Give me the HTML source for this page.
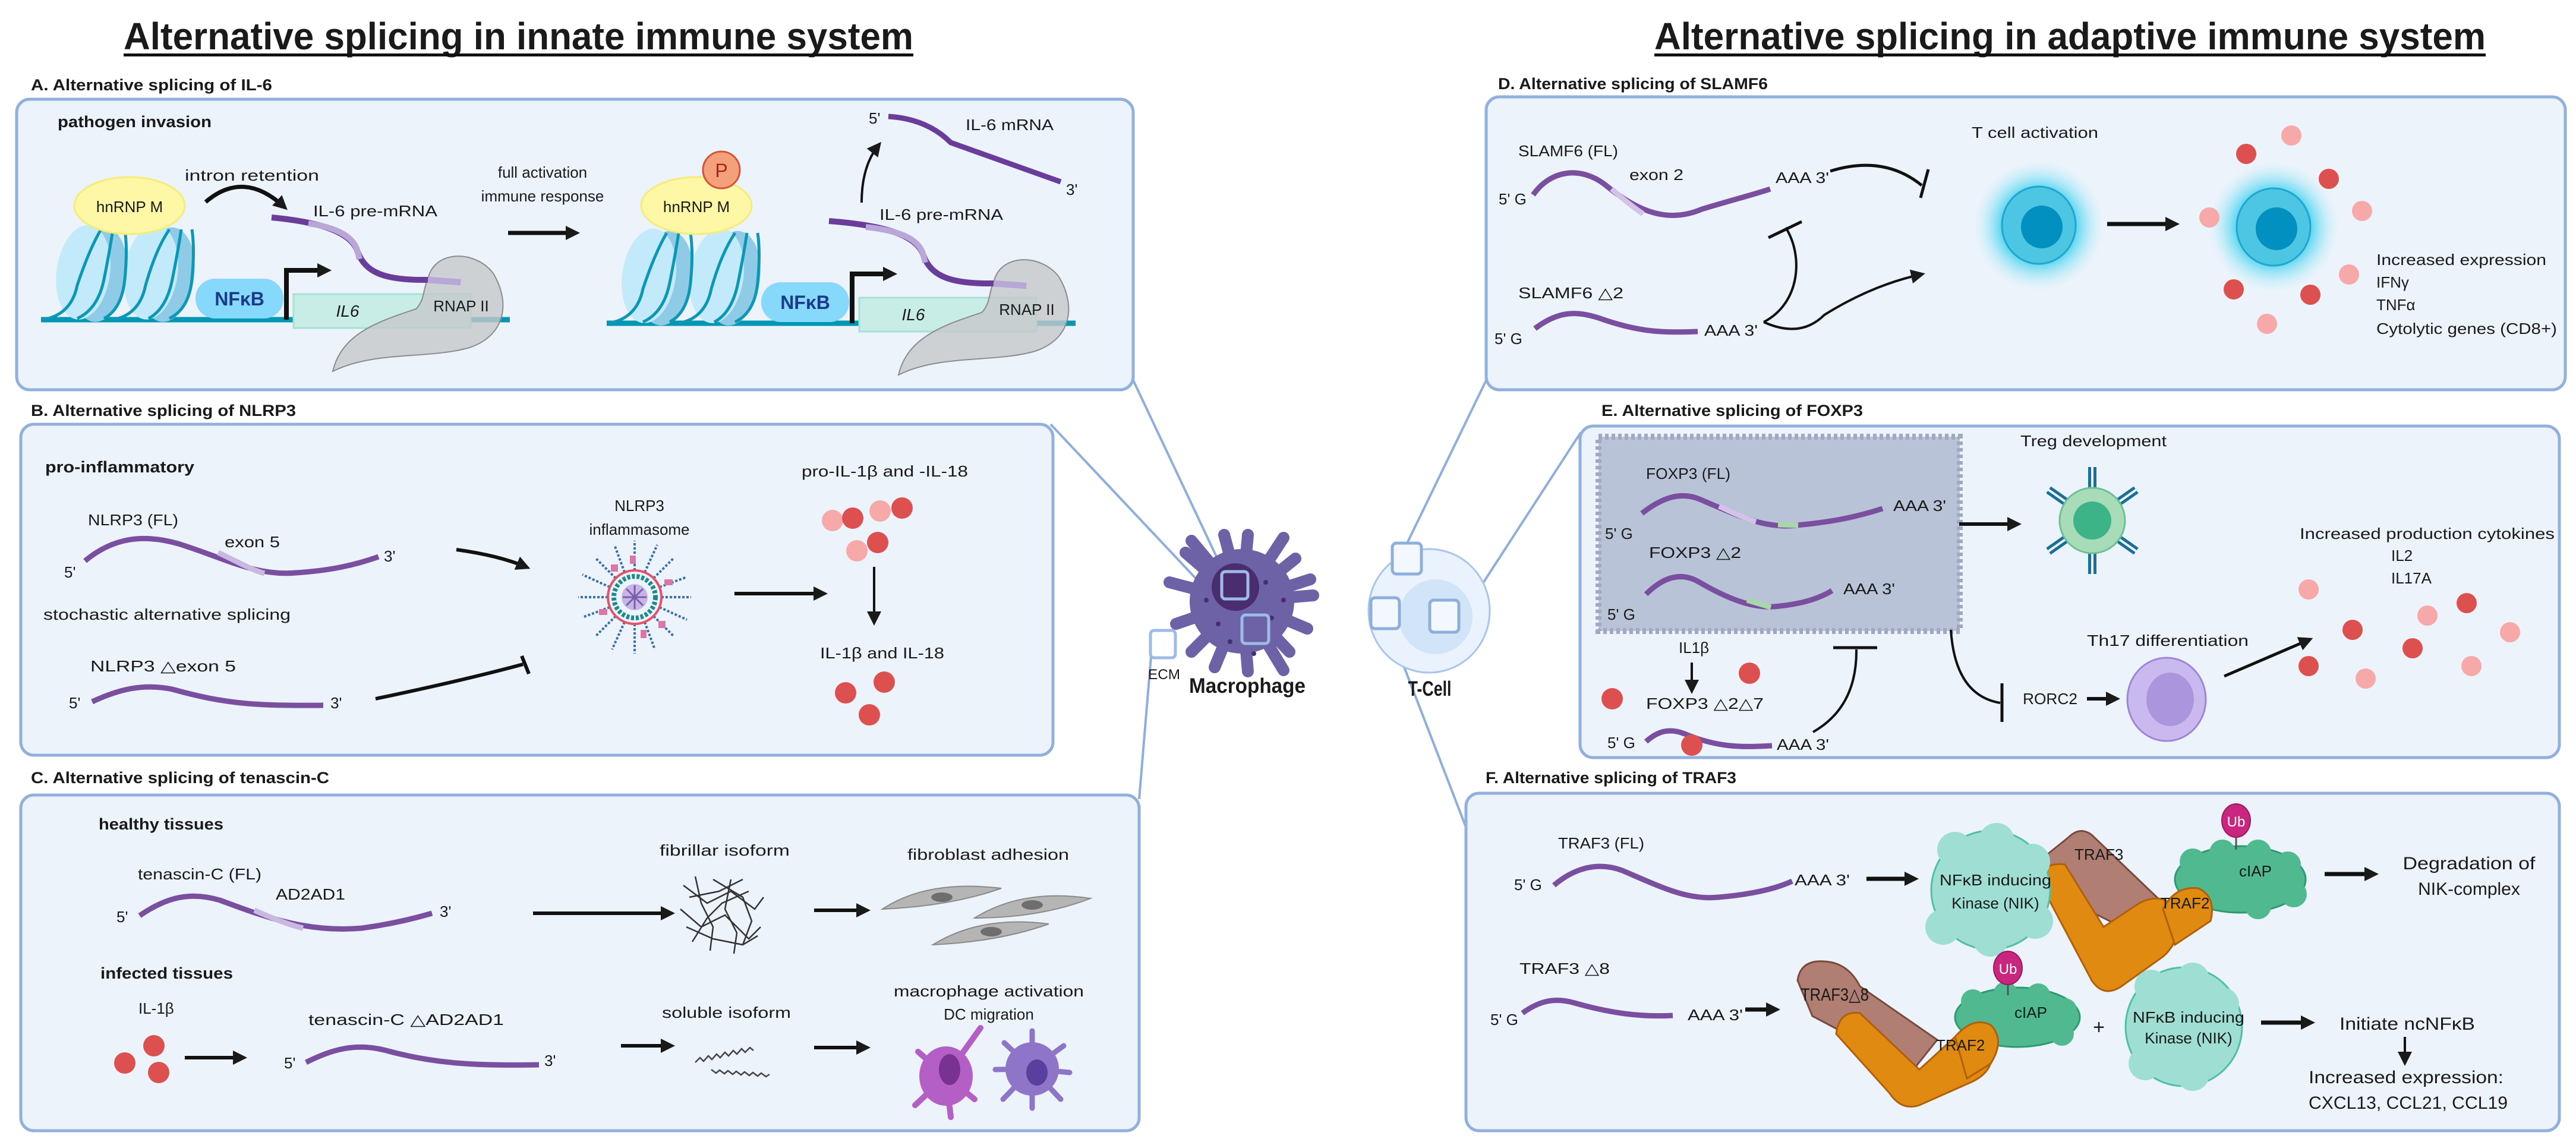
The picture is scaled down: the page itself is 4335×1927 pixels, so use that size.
<!DOCTYPE html>
<html><head><meta charset="utf-8">
<style>
html,body{margin:0;padding:0;background:#fff;}
svg{display:block;}
text{font-family:"Liberation Sans",sans-serif;fill:#1a1a1a;}
.t{font-size:26px;}
.b{font-weight:bold;}
</style></head><body>
<svg width="4335" height="1927" viewBox="0 0 4335 1927" xmlns="http://www.w3.org/2000/svg">
<defs>
<marker id="ah" markerUnits="userSpaceOnUse" markerWidth="30" markerHeight="30" refX="16" refY="12" orient="auto"><path d="M0,0 L24,12 L0,24 Z" fill="#1a1a1a"/></marker>
<radialGradient id="glow"><stop offset="0.55" stop-color="#3fd0ef" stop-opacity="0.9"/><stop offset="1" stop-color="#bff0fa" stop-opacity="0"/></radialGradient>
</defs>

<!-- titles -->
<text x="208" y="83" font-size="64" class="b" textLength="1329" lengthAdjust="spacingAndGlyphs">Alternative splicing in innate immune system</text>
<rect x="208" y="90" width="1329" height="5" fill="#111"/>
<text x="2784" y="83" font-size="64" class="b" textLength="1399" lengthAdjust="spacingAndGlyphs">Alternative splicing in adaptive immune system</text>
<rect x="2784" y="90" width="1399" height="5" fill="#111"/>

<!-- connector lines -->
<g stroke="#8eafdc" stroke-width="4" fill="none">
<line x1="1907" y1="640" x2="2059" y2="962"/>
<line x1="1768" y1="714" x2="2091" y2="1057"/>
<line x1="1937" y1="1105" x2="1917" y2="1345"/>
<line x1="2501" y1="640" x2="2368" y2="914"/>
<line x1="2455" y1="1044" x2="2660" y2="728"/>
<line x1="2338" y1="1058" x2="2470" y2="1400"/>
</g>

<!-- section labels -->
<g class="b" font-size="27">
<text x="52" y="152" textLength="406" lengthAdjust="spacingAndGlyphs">A. Alternative splicing of IL-6</text>
<text x="52" y="700" textLength="446" lengthAdjust="spacingAndGlyphs">B. Alternative splicing of NLRP3</text>
<text x="52" y="1318" textLength="502" lengthAdjust="spacingAndGlyphs">C. Alternative splicing of tenascin-C</text>
<text x="2521" y="150" textLength="454" lengthAdjust="spacingAndGlyphs">D. Alternative splicing of SLAMF6</text>
<text x="2695" y="700" textLength="440" lengthAdjust="spacingAndGlyphs">E. Alternative splicing of FOXP3</text>
<text x="2500" y="1318" textLength="422" lengthAdjust="spacingAndGlyphs">F. Alternative splicing of TRAF3</text>
</g>

<!-- boxes -->
<g fill="#ecf3fb" stroke="#91b1dc" stroke-width="5">
<rect x="28" y="167" width="1879" height="489" rx="22"/>
<rect x="35" y="714" width="1737" height="557" rx="22"/>
<rect x="35" y="1338" width="1882" height="565" rx="22"/>
<rect x="2501" y="163" width="1816" height="493" rx="22"/>
<rect x="2659" y="717" width="1648" height="558" rx="22"/>
<rect x="2467" y="1335" width="1840" height="568" rx="22"/>
</g>

<!-- ===== Panel A ===== -->
<text x="97" y="214" class="b" font-size="27" textLength="259" lengthAdjust="spacingAndGlyphs">pathogen invasion</text>
<g id="constr1">
<line x1="69" y1="538" x2="858" y2="538" stroke="#0097b2" stroke-width="9"/>
<g transform="rotate(8 152 460)">
<ellipse cx="168" cy="460" rx="45" ry="80" fill="#8fcbe6"/><ellipse cx="140" cy="460" rx="45" ry="80" fill="#c3eafa"/>
</g>
<g transform="rotate(8 266 460)">
<ellipse cx="282" cy="460" rx="45" ry="80" fill="#8fcbe6"/><ellipse cx="254" cy="460" rx="45" ry="80" fill="#c3eafa"/>
</g>
<g stroke="#0b97b5" stroke-width="5" fill="none">
<path d="M72,538 Q120,530 130,480 Q150,420 170,386"/><path d="M130,536 Q165,520 175,470 Q185,420 190,386"/><path d="M175,536 Q205,520 210,470 Q215,420 210,386"/>
<path d="M190,538 Q235,530 245,480 Q262,420 285,386"/><path d="M250,536 Q280,520 290,470 Q300,420 305,386"/><path d="M285,536 Q318,520 323,470 Q328,420 323,386"/>
</g>
<ellipse cx="218" cy="346" rx="93" ry="48" fill="#fdf7a6" stroke="#f5ec7a" stroke-width="3"/>
<text x="218" y="357" class="t" text-anchor="middle" font-size="27">hnRNP M</text>
<rect x="329" y="469" width="148" height="67" rx="33" fill="#86d9fb"/>
<text x="403" y="514" text-anchor="middle" class="b" font-size="32" style="fill:#1b3a8a">NFκB</text>
<rect x="494" y="495" width="298" height="57" fill="#c8ede6" stroke="#a7e0d6" stroke-width="3"/>
<text x="585" y="533" font-size="28" font-style="italic" text-anchor="middle">IL6</text>
<path d="M720,470 C730,420 800,420 830,460 C860,510 850,565 790,585 C720,605 630,590 560,625 C575,560 640,540 700,520 C715,505 712,485 720,470 Z" fill="#c5c8cb" fill-opacity="0.8" stroke="#8c8c8c" stroke-width="2"/>
<text x="776" y="524" class="t" text-anchor="middle" font-size="27">RNAP II</text>
<path d="M482,538 L482,455 L550,455" stroke="#111" stroke-width="8" fill="none" marker-end="url(#ah)"/>
<path d="M457,366 C520,372 590,385 602,424 C615,460 650,472 720,471 L775,475" stroke="#6a3d9a" stroke-width="10" fill="none"/>
<path d="M519,376 C560,382 595,395 602,424 L605,436" stroke="#b9a7d8" stroke-width="10" fill="none"/>
<path d="M720,471 L775,475" stroke="#b9a7d8" stroke-width="10" fill="none"/>
</g>
<g transform="translate(952,6)">
<line x1="69" y1="538" x2="858" y2="538" stroke="#0097b2" stroke-width="9"/>
<g transform="rotate(8 152 460)">
<ellipse cx="168" cy="460" rx="45" ry="80" fill="#8fcbe6"/><ellipse cx="140" cy="460" rx="45" ry="80" fill="#c3eafa"/>
</g>
<g transform="rotate(8 266 460)">
<ellipse cx="282" cy="460" rx="45" ry="80" fill="#8fcbe6"/><ellipse cx="254" cy="460" rx="45" ry="80" fill="#c3eafa"/>
</g>
<g stroke="#0b97b5" stroke-width="5" fill="none">
<path d="M72,538 Q120,530 130,480 Q150,420 170,386"/><path d="M130,536 Q165,520 175,470 Q185,420 190,386"/><path d="M175,536 Q205,520 210,470 Q215,420 210,386"/>
<path d="M190,538 Q235,530 245,480 Q262,420 285,386"/><path d="M250,536 Q280,520 290,470 Q300,420 305,386"/><path d="M285,536 Q318,520 323,470 Q328,420 323,386"/>
</g>
<ellipse cx="220" cy="340" rx="93" ry="48" fill="#fdf7a6" stroke="#f5ec7a" stroke-width="3"/>
<text x="220" y="351" class="t" text-anchor="middle" font-size="27">hnRNP M</text>
<rect x="329" y="469" width="148" height="67" rx="33" fill="#86d9fb"/>
<text x="403" y="514" text-anchor="middle" class="b" font-size="32" style="fill:#1b3a8a">NFκB</text>
<rect x="494" y="495" width="298" height="57" fill="#c8ede6" stroke="#a7e0d6" stroke-width="3"/>
<text x="585" y="533" font-size="28" font-style="italic" text-anchor="middle">IL6</text>
<path d="M720,470 C730,420 800,420 830,460 C860,510 850,565 790,585 C720,605 630,590 560,625 C575,560 640,540 700,520 C715,505 712,485 720,470 Z" fill="#c5c8cb" fill-opacity="0.8" stroke="#8c8c8c" stroke-width="2"/>
<text x="776" y="524" class="t" text-anchor="middle" font-size="27">RNAP II</text>
<path d="M482,538 L482,455 L550,455" stroke="#111" stroke-width="8" fill="none" marker-end="url(#ah)"/>
<path d="M443,366 C520,372 590,385 602,424 C615,460 650,472 720,471 L775,475" stroke="#6a3d9a" stroke-width="10" fill="none"/>
<path d="M505,376 C560,382 595,395 602,424 L605,436" stroke="#b9a7d8" stroke-width="10" fill="none"/>
<path d="M720,471 L775,475" stroke="#b9a7d8" stroke-width="10" fill="none"/>
</g>
<circle cx="1214" cy="286" r="31" fill="#f4a07a" stroke="#d2543a" stroke-width="3"/>
<text x="1214" y="298" text-anchor="middle" font-size="32" style="fill:#a3281a">P</text>
<text x="311" y="304" class="t" font-size="27" textLength="226" lengthAdjust="spacingAndGlyphs">intron retention</text>
<path d="M346,340 Q410,285 478,348" stroke="#111" stroke-width="7" fill="none" marker-end="url(#ah)"/>
<text x="527" y="364" class="t" font-size="27" textLength="209" lengthAdjust="spacingAndGlyphs">IL-6 pre-mRNA</text>
<text x="913" y="299" class="t" font-size="27" text-anchor="middle">full activation</text>
<text x="913" y="339" class="t" font-size="27" text-anchor="middle">immune response</text>
<line x1="855" y1="392" x2="968" y2="392" stroke="#111" stroke-width="7" marker-end="url(#ah)"/>
<path d="M1450,341 Q1450,280 1478,245" stroke="#111" stroke-width="4" fill="none" marker-end="url(#ah)"/>
<path d="M1495,196 Q1560,200 1600,240 L1785,306" stroke="#6a3d9a" stroke-width="9" fill="none"/>
<text x="1462" y="208" class="t">5'</text>
<text x="1625" y="219" class="t" font-size="27" textLength="148" lengthAdjust="spacingAndGlyphs">IL-6 mRNA</text>
<text x="1794" y="328" class="t">3'</text>
<text x="1480" y="370" class="t" font-size="27" textLength="208" lengthAdjust="spacingAndGlyphs">IL-6 pre-mRNA</text>

<!-- ===== Panel B ===== -->
<text x="76" y="795" class="b" font-size="27" textLength="251" lengthAdjust="spacingAndGlyphs">pro-inflammatory</text>
<text x="148" y="884" class="t" textLength="152" lengthAdjust="spacingAndGlyphs">NLRP3 (FL)</text>
<text x="378" y="921" class="t" textLength="93" lengthAdjust="spacingAndGlyphs">exon 5</text>
<text x="108" y="972" class="t">5'</text>
<text x="646" y="945" class="t">3'</text>
<path d="M143,944 C190,905 240,898 300,915 C380,940 430,970 498,964 C560,960 600,950 637,937" stroke="#7b4fa0" stroke-width="9" fill="none"/>
<path d="M367,930 C400,945 420,958 445,965" stroke="#c9b8e0" stroke-width="9" fill="none"/>
<text x="73" y="1043" class="t" textLength="416" lengthAdjust="spacingAndGlyphs">stochastic alternative splicing</text>
<text x="152" y="1130" class="t" font-size="28" textLength="245" lengthAdjust="spacingAndGlyphs">NLRP3 △exon 5</text>
<text x="116" y="1192" class="t">5'</text>
<text x="556" y="1192" class="t">3'</text>
<path d="M155,1181 C200,1160 240,1150 290,1160 C380,1185 430,1188 544,1187" stroke="#7b4fa0" stroke-width="9" fill="none"/>
<path d="M632,1176 Q780,1145 880,1118" stroke="#111" stroke-width="6" fill="none"/>
<line x1="878" y1="1104" x2="890" y2="1134" stroke="#111" stroke-width="6"/>
<path d="M768,925 Q840,935 885,954" stroke="#111" stroke-width="6" fill="none" marker-end="url(#ah)"/>
<text x="1076" y="860" class="t" text-anchor="middle">NLRP3</text>
<text x="1076" y="900" class="t" text-anchor="middle">inflammasome</text>
<g transform="translate(1068,1005)">
<g stroke="#3a6fa8" stroke-width="4" stroke-dasharray="4 3">
<line x1="0" y1="-45" x2="0" y2="-95"/><line x1="0" y1="45" x2="0" y2="95"/><line x1="45" y1="0" x2="95" y2="0"/><line x1="-45" y1="0" x2="-95" y2="0"/>
<line x1="32" y1="32" x2="66" y2="66"/><line x1="-32" y1="32" x2="-66" y2="66"/><line x1="32" y1="-32" x2="66" y2="-66"/><line x1="-32" y1="-32" x2="-66" y2="-66"/>
<line x1="17" y1="-42" x2="38" y2="-88"/><line x1="-17" y1="42" x2="-38" y2="88"/><line x1="42" y1="17" x2="88" y2="38"/><line x1="-42" y1="-17" x2="-88" y2="-38"/>
<line x1="-17" y1="-42" x2="-34" y2="-88"/><line x1="17" y1="42" x2="34" y2="88"/><line x1="42" y1="-17" x2="88" y2="-34"/><line x1="-42" y1="17" x2="-88" y2="34"/>
</g>
<g fill="#d877a8"><rect x="-8" y="-70" width="10" height="14"/><rect x="50" y="-30" width="14" height="10"/><rect x="40" y="40" width="12" height="12"/><rect x="-60" y="20" width="14" height="10"/><rect x="-40" y="-55" width="12" height="12"/><rect x="10" y="55" width="10" height="14"/></g>
<circle r="45" fill="#ecf3fb" stroke="#e8506a" stroke-width="4"/>
<circle r="35" fill="none" stroke="#1b8a8a" stroke-width="8" stroke-dasharray="5 3"/>
<circle r="22" fill="#c7b5e6"/>
<g stroke="#7a5fb0" stroke-width="3"><line x1="-20" y1="0" x2="20" y2="0"/><line x1="0" y1="-20" x2="0" y2="20"/><line x1="-14" y1="-14" x2="14" y2="14"/><line x1="-14" y1="14" x2="14" y2="-14"/></g>
</g>
<line x1="1236" y1="999" x2="1385" y2="999" stroke="#111" stroke-width="6" marker-end="url(#ah)"/>
<text x="1349" y="802" class="t" textLength="280" lengthAdjust="spacingAndGlyphs">pro-IL-1β and -IL-18</text>
<g>
<circle cx="1401" cy="876" r="18" fill="#f7a8a8"/><circle cx="1435" cy="872" r="18" fill="#dd5050"/><circle cx="1481" cy="860" r="18" fill="#f7a8a8"/><circle cx="1518" cy="855" r="18" fill="#dd5050"/><circle cx="1477" cy="913" r="18" fill="#dd5050"/><circle cx="1442" cy="927" r="18" fill="#f7a8a8"/>
</g>
<line x1="1471" y1="954" x2="1471" y2="1045" stroke="#111" stroke-width="4" marker-end="url(#ah)"/>
<text x="1380" y="1108" class="t" textLength="209" lengthAdjust="spacingAndGlyphs">IL-1β and IL-18</text>
<circle cx="1488" cy="1148" r="18" fill="#dd5050"/><circle cx="1423" cy="1166" r="18" fill="#dd5050"/><circle cx="1463" cy="1203" r="18" fill="#dd5050"/>

<!-- ===== Panel C ===== -->
<text x="166" y="1396" class="b" font-size="27" textLength="210" lengthAdjust="spacingAndGlyphs">healthy tissues</text>
<text x="232" y="1480" class="t" textLength="208" lengthAdjust="spacingAndGlyphs">tenascin-C (FL)</text>
<text x="464" y="1514" class="t" textLength="117" lengthAdjust="spacingAndGlyphs">AD2AD1</text>
<text x="196" y="1552" class="t">5'</text>
<text x="740" y="1543" class="t">3'</text>
<path d="M235,1541 C280,1510 320,1500 370,1515 C450,1545 520,1570 609,1562 C660,1555 700,1545 727,1537" stroke="#7b4fa0" stroke-width="9" fill="none"/>
<path d="M428,1532 C460,1546 485,1556 510,1562" stroke="#c9b8e0" stroke-width="9" fill="none"/>
<line x1="897" y1="1537" x2="1128" y2="1537" stroke="#111" stroke-width="6" marker-end="url(#ah)"/>
<text x="1110" y="1440" class="t" textLength="219" lengthAdjust="spacingAndGlyphs">fibrillar isoform</text>
<g stroke="#333" stroke-width="2.5" fill="none">
<path d="M1150,1490 L1190,1520 L1230,1500 L1270,1530 L1285,1510"/><path d="M1145,1530 L1180,1560 L1220,1540 L1260,1580 L1280,1560"/>
<path d="M1170,1475 L1180,1520 L1200,1560 L1195,1600"/><path d="M1230,1480 L1220,1530 L1240,1570 L1235,1605"/>
<path d="M1155,1560 L1200,1580 L1250,1590 L1275,1575"/><path d="M1200,1480 L1250,1510 L1265,1550 L1250,1590"/>
<path d="M1160,1510 L1210,1500 L1250,1480"/><path d="M1165,1585 L1190,1545 L1215,1520 L1260,1500"/>
</g>
<line x1="1370" y1="1532" x2="1457" y2="1532" stroke="#111" stroke-width="6" marker-end="url(#ah)"/>
<text x="1527" y="1447" class="t" textLength="272" lengthAdjust="spacingAndGlyphs">fibroblast adhesion</text>
<g fill="#b5b5b5" stroke="#8a8a8a" stroke-width="2">
<path d="M1485,1530 Q1560,1480 1685,1495 Q1600,1525 1485,1530 Z"/>
<path d="M1640,1545 Q1720,1495 1835,1512 Q1750,1545 1640,1545 Z"/>
<path d="M1570,1590 Q1650,1540 1765,1555 Q1680,1585 1570,1590 Z"/>
</g>
<g fill="#6e6e6e"><ellipse cx="1585" cy="1510" rx="18" ry="8"/><ellipse cx="1737" cy="1523" rx="18" ry="8"/><ellipse cx="1668" cy="1568" rx="18" ry="8"/></g>
<text x="169" y="1647" class="b" font-size="27" textLength="223" lengthAdjust="spacingAndGlyphs">infected tissues</text>
<text x="233" y="1706" class="t">IL-1β</text>
<circle cx="259" cy="1760" r="18" fill="#dd5050"/><circle cx="210" cy="1789" r="18" fill="#dd5050"/><circle cx="267" cy="1805" r="18" fill="#dd5050"/>
<line x1="311" y1="1780" x2="408" y2="1780" stroke="#111" stroke-width="6" marker-end="url(#ah)"/>
<text x="519" y="1725" class="t" font-size="28" textLength="329" lengthAdjust="spacingAndGlyphs">tenascin-C △AD2AD1</text>
<text x="478" y="1798" class="t">5'</text>
<text x="916" y="1794" class="t">3'</text>
<path d="M515,1788 C560,1765 600,1755 650,1768 C730,1790 800,1794 907,1792" stroke="#7b4fa0" stroke-width="9" fill="none"/>
<line x1="1045" y1="1760" x2="1128" y2="1760" stroke="#111" stroke-width="6" marker-end="url(#ah)"/>
<text x="1114" y="1713" class="t" textLength="217" lengthAdjust="spacingAndGlyphs">soluble isoform</text>
<g stroke="#444" stroke-width="2.5" fill="none">
<path d="M1170,1788 l8,-8 l6,6 l8,-9 l6,6 l8,-9 l6,6 l8,-9 l6,6 l8,-9 l6,6 l8,-9 l6,6 l8,-8 l6,5"/>
<path d="M1197,1800 l8,6 l6,-5 l8,6 l6,-5 l8,6 l6,-5 l8,6 l6,-5 l8,6 l6,-5 l8,6 l6,-5 l8,6 l6,-4"/>
</g>
<line x1="1370" y1="1763" x2="1457" y2="1763" stroke="#111" stroke-width="6" marker-end="url(#ah)"/>
<text x="1664" y="1677" class="t" text-anchor="middle" textLength="320" lengthAdjust="spacingAndGlyphs">macrophage activation</text>
<text x="1664" y="1716" class="t" text-anchor="middle">DC migration</text>
<g stroke="#b45fc6" stroke-width="10" stroke-linecap="round">
<line x1="1592" y1="1811" x2="1650" y2="1730"/><line x1="1592" y1="1811" x2="1545" y2="1770"/><line x1="1592" y1="1811" x2="1540" y2="1860"/><line x1="1592" y1="1811" x2="1600" y2="1880"/><line x1="1592" y1="1811" x2="1640" y2="1850"/>
</g>
<ellipse cx="1592" cy="1811" rx="45" ry="50" fill="#b45fc6"/><ellipse cx="1598" cy="1800" rx="18" ry="26" fill="#7a3292"/>
<g stroke="#8e75c8" stroke-width="9" stroke-linecap="round">
<line x1="1737" y1="1799" x2="1737" y2="1735"/><line x1="1737" y1="1799" x2="1790" y2="1760"/><line x1="1737" y1="1799" x2="1800" y2="1805"/><line x1="1737" y1="1799" x2="1785" y2="1850"/><line x1="1737" y1="1799" x2="1737" y2="1865"/><line x1="1737" y1="1799" x2="1688" y2="1850"/><line x1="1737" y1="1799" x2="1675" y2="1800"/><line x1="1737" y1="1799" x2="1690" y2="1755"/>
</g>
<circle cx="1737" cy="1799" r="45" fill="#8e75c8"/><ellipse cx="1745" cy="1805" rx="18" ry="22" fill="#5a3f9e"/>

<!-- ===== centre cells ===== -->
<g stroke="#6e62a6" stroke-width="20" stroke-linecap="round">
<line x1="2090" y1="1012" x2="2210" y2="1002"/><line x1="2090" y1="1012" x2="2200" y2="1058"/><line x1="2090" y1="1012" x2="2170" y2="1097"/><line x1="2090" y1="1012" x2="2160" y2="1128"/><line x1="2090" y1="1012" x2="2100" y2="1130"/><line x1="2090" y1="1012" x2="2044" y2="1123"/><line x1="2090" y1="1012" x2="2005" y2="1097"/><line x1="2090" y1="1012" x2="1979" y2="1050"/><line x1="2090" y1="1012" x2="1968" y2="980"/><line x1="2090" y1="1012" x2="1995" y2="930"/><line x1="2090" y1="1012" x2="2005" y2="910"/><line x1="2090" y1="1012" x2="2060" y2="900"/><line x1="2090" y1="1012" x2="2100" y2="900"/><line x1="2090" y1="1012" x2="2160" y2="905"/><line x1="2090" y1="1012" x2="2180" y2="940"/><line x1="2090" y1="1012" x2="2205" y2="975"/>
</g>
<circle cx="2090" cy="1012" r="88" fill="#6e62a6"/>
<circle cx="2079" cy="988" r="40" fill="#4a2d6e"/>
<g fill="#4a2d6e"><circle cx="2130" cy="980" r="4"/><circle cx="2050" cy="1050" r="4"/><circle cx="2140" cy="1040" r="4"/><circle cx="2030" cy="1010" r="4"/><circle cx="2110" cy="1100" r="4"/><circle cx="2160" cy="1010" r="4"/><circle cx="2070" cy="1080" r="4"/></g>
<g fill="none" stroke="#9dbbe6" stroke-width="5">
<rect x="2056" y="962" width="44" height="46" rx="6" fill="#4a2d6e"/>
<rect x="2090" y="1035" width="45" height="48" rx="6"/>
<rect x="1936" y="1061" width="42" height="46" rx="6" fill="#fff"/>
</g>
<text x="2099" y="1166" text-anchor="middle" class="b" font-size="35" textLength="196" lengthAdjust="spacingAndGlyphs">Macrophage</text>
<text x="1959" y="1143" text-anchor="middle" font-size="24" textLength="54" lengthAdjust="spacingAndGlyphs">ECM</text>
<ellipse cx="2405" cy="1028" rx="102" ry="104" fill="#eaf3fd" stroke="#a9c6ea" stroke-width="3"/>
<ellipse cx="2416" cy="1038" rx="62" ry="63" fill="#d2e4f7"/>
<g fill="#f2f8fe" stroke="#8eafdc" stroke-width="5">
<rect x="2343" y="914" width="49" height="52" rx="7"/><rect x="2307" y="1006" width="48" height="52" rx="7"/><rect x="2406" y="1010" width="49" height="54" rx="7"/>
</g>
<text x="2406" y="1171" text-anchor="middle" class="b" font-size="35" textLength="73" lengthAdjust="spacingAndGlyphs">T-Cell</text>

<!-- ===== Panel D ===== -->
<text x="2555" y="263" class="t" textLength="168" lengthAdjust="spacingAndGlyphs">SLAMF6 (FL)</text>
<text x="2742" y="303" class="t" textLength="91" lengthAdjust="spacingAndGlyphs">exon 2</text>
<text x="2522" y="344" class="t">5' G</text>
<path d="M2580,328 C2610,285 2660,280 2700,310 C2760,360 2810,375 2864,352 C2920,335 2960,325 2979,318" stroke="#7b4fa0" stroke-width="9" fill="none"/>
<path d="M2712,318 C2735,338 2750,350 2765,360" stroke="#d3c3e8" stroke-width="9" fill="none"/>
<text x="2988" y="308" class="t" textLength="90" lengthAdjust="spacingAndGlyphs">AAA 3'</text>
<path d="M3080,288 Q3170,260 3234,312" stroke="#111" stroke-width="5" fill="none"/>
<line x1="3245" y1="285" x2="3232" y2="333" stroke="#111" stroke-width="5"/>
<text x="2555" y="502" class="t" font-size="28" textLength="177" lengthAdjust="spacingAndGlyphs">SLAMF6 △2</text>
<path d="M2583,553 C2620,525 2650,522 2690,535 C2760,560 2800,560 2857,558" stroke="#7b4fa0" stroke-width="9" fill="none"/>
<text x="2515" y="579" class="t">5' G</text>
<text x="2868" y="565" class="t" textLength="90" lengthAdjust="spacingAndGlyphs">AAA 3'</text>
<path d="M2968,542 C3030,510 3035,430 3005,383" stroke="#111" stroke-width="4" fill="none"/>
<line x1="2976" y1="400" x2="3032" y2="373" stroke="#111" stroke-width="5"/>
<path d="M2968,542 Q3030,570 3070,530 Q3150,480 3232,462" stroke="#111" stroke-width="4" fill="none" marker-end="url(#ah)"/>
<text x="3318" y="232" class="t" textLength="213" lengthAdjust="spacingAndGlyphs">T cell activation</text>
<circle cx="3431" cy="380" r="110" fill="url(#glow)"/>
<ellipse cx="3431" cy="379" rx="62" ry="65" fill="#4cc6e3" stroke="#1fa7d0" stroke-width="3"/>
<ellipse cx="3436" cy="382" rx="35" ry="36" fill="#0290c0"/>
<line x1="3546" y1="377" x2="3660" y2="377" stroke="#111" stroke-width="7" marker-end="url(#ah)"/>
<circle cx="3826" cy="382" r="110" fill="url(#glow)"/>
<ellipse cx="3826" cy="382" rx="62" ry="65" fill="#4cc6e3" stroke="#1fa7d0" stroke-width="3"/>
<ellipse cx="3831" cy="385" rx="35" ry="36" fill="#0290c0"/>
<g>
<circle cx="3856" cy="228" r="17" fill="#f7a8a8"/><circle cx="3780" cy="259" r="17" fill="#dd5050"/><circle cx="3919" cy="301" r="17" fill="#dd5050"/><circle cx="3718" cy="366" r="17" fill="#f7a8a8"/><circle cx="3975" cy="355" r="17" fill="#f7a8a8"/><circle cx="3953" cy="462" r="17" fill="#f7a8a8"/><circle cx="3759" cy="487" r="17" fill="#dd5050"/><circle cx="3888" cy="496" r="17" fill="#dd5050"/><circle cx="3815" cy="545" r="17" fill="#f7a8a8"/>
</g>
<text x="3999" y="446" class="t" textLength="286" lengthAdjust="spacingAndGlyphs">Increased expression</text>
<text x="3999" y="484" class="t">IFNγ</text>
<text x="3999" y="522" class="t">TNFα</text>
<text x="3999" y="562" class="t" textLength="304" lengthAdjust="spacingAndGlyphs">Cytolytic genes (CD8+)</text>

<!-- ===== Panel E ===== -->
<rect x="2690" y="735" width="608" height="327" fill="#b9c3d8" stroke="#a0a9bf" stroke-width="10" stroke-dasharray="6 5"/>
<text x="2770" y="806" class="t" textLength="142" lengthAdjust="spacingAndGlyphs">FOXP3 (FL)</text>
<path d="M2763,864 C2800,835 2830,828 2860,840 C2930,870 2970,890 3023,884 C3090,878 3130,868 3168,856" stroke="#7b4fa0" stroke-width="9" fill="none"/>
<path d="M2893,852 C2915,862 2935,872 2955,878" stroke="#d3c3e8" stroke-width="9" fill="none"/>
<path d="M2992,883 L3026,884" stroke="#a8d8a8" stroke-width="9" fill="none"/>
<text x="3186" y="860" class="t" textLength="89" lengthAdjust="spacingAndGlyphs">AAA 3'</text>
<text x="2701" y="907" class="t">5' G</text>
<text x="2775" y="939" class="t" font-size="28" textLength="155" lengthAdjust="spacingAndGlyphs">FOXP3 △2</text>
<path d="M2770,1000 C2800,970 2830,962 2860,980 C2920,1015 2960,1025 2995,1020 C3040,1015 3065,1005 3083,994" stroke="#7b4fa0" stroke-width="9" fill="none"/>
<path d="M2940,1010 L2980,1022" stroke="#a8d8a8" stroke-width="9" fill="none"/>
<text x="3102" y="1000" class="t" textLength="87" lengthAdjust="spacingAndGlyphs">AAA 3'</text>
<text x="2705" y="1043" class="t">5' G</text>
<line x1="3297" y1="882" x2="3394" y2="882" stroke="#111" stroke-width="6" marker-end="url(#ah)"/>
<text x="3400" y="751" class="t" textLength="246" lengthAdjust="spacingAndGlyphs">Treg development</text>
<g fill="#1a6f96">
<g transform="rotate(0 3521 876)"><rect x="3514" y="786" width="5" height="34"/><rect x="3523" y="786" width="5" height="34"/></g>
<g transform="rotate(55 3521 876)"><rect x="3514" y="786" width="5" height="34"/><rect x="3523" y="786" width="5" height="34"/></g>
<g transform="rotate(125 3521 876)"><rect x="3514" y="786" width="5" height="34"/><rect x="3523" y="786" width="5" height="34"/></g>
<g transform="rotate(180 3521 876)"><rect x="3514" y="786" width="5" height="34"/><rect x="3523" y="786" width="5" height="34"/></g>
<g transform="rotate(235 3521 876)"><rect x="3514" y="786" width="5" height="34"/><rect x="3523" y="786" width="5" height="34"/></g>
<g transform="rotate(305 3521 876)"><rect x="3514" y="786" width="5" height="34"/><rect x="3523" y="786" width="5" height="34"/></g>
</g>
<circle cx="3521" cy="876" r="55" fill="#a8dcb9" stroke="#6cc095" stroke-width="3"/>
<circle cx="3521" cy="876" r="32" fill="#3cb488"/>
<text x="3870" y="907" class="t" textLength="429" lengthAdjust="spacingAndGlyphs">Increased production cytokines</text>
<text x="4024" y="944" class="t">IL2</text>
<text x="4024" y="982" class="t">IL17A</text>
<g>
<circle cx="3885" cy="992" r="17" fill="#f7a8a8"/><circle cx="4151" cy="1015" r="17" fill="#dd5050"/><circle cx="4085" cy="1036" r="17" fill="#f7a8a8"/><circle cx="3959" cy="1060" r="17" fill="#dd5050"/><circle cx="4224" cy="1064" r="17" fill="#f7a8a8"/><circle cx="4060" cy="1091" r="17" fill="#dd5050"/><circle cx="3885" cy="1121" r="17" fill="#dd5050"/><circle cx="4159" cy="1121" r="17" fill="#f7a8a8"/><circle cx="3981" cy="1142" r="17" fill="#f7a8a8"/>
</g>
<text x="3512" y="1087" class="t" textLength="272" lengthAdjust="spacingAndGlyphs">Th17 differentiation</text>
<line x1="3743" y1="1138" x2="3885" y2="1077" stroke="#111" stroke-width="5" marker-end="url(#ah)"/>
<ellipse cx="3646" cy="1177" rx="66" ry="70" fill="#c9b9ef" stroke="#9d86d8" stroke-width="3"/>
<ellipse cx="3652" cy="1177" rx="40" ry="45" fill="#a996dc"/>
<text x="3404" y="1185" class="t" textLength="92" lengthAdjust="spacingAndGlyphs">RORC2</text>
<line x1="3512" y1="1176" x2="3560" y2="1176" stroke="#111" stroke-width="6" marker-end="url(#ah)"/>
<path d="M3283,1060 Q3290,1170 3366,1183" stroke="#111" stroke-width="4" fill="none"/>
<line x1="3369" y1="1150" x2="3369" y2="1215" stroke="#111" stroke-width="5"/>
<text x="2825" y="1099" class="t">IL1β</text>
<line x1="2847" y1="1115" x2="2847" y2="1160" stroke="#111" stroke-width="4" marker-end="url(#ah)"/>
<circle cx="2944" cy="1133" r="18" fill="#dd5050"/><circle cx="2713" cy="1176" r="18" fill="#dd5050"/>
<text x="2770" y="1193" class="t" font-size="28" textLength="198" lengthAdjust="spacingAndGlyphs">FOXP3 △2△7</text>
<path d="M2770,1248 C2790,1230 2810,1225 2835,1235 C2890,1258 2930,1258 2982,1255" stroke="#7b4fa0" stroke-width="9" fill="none"/>
<circle cx="2847" cy="1254" r="18" fill="#dd5050"/>
<text x="2705" y="1259" class="t">5' G</text>
<text x="2990" y="1262" class="t" textLength="88" lengthAdjust="spacingAndGlyphs">AAA 3'</text>
<path d="M3051,1232 Q3125,1190 3124,1093" stroke="#111" stroke-width="4" fill="none"/>
<line x1="3085" y1="1090" x2="3159" y2="1090" stroke="#111" stroke-width="5"/>

<!-- ===== Panel F ===== -->
<text x="2622" y="1428" class="t" textLength="145" lengthAdjust="spacingAndGlyphs">TRAF3 (FL)</text>
<path d="M2615,1490 C2650,1460 2690,1450 2730,1465 C2800,1495 2840,1515 2892,1510 C2950,1505 2990,1495 3016,1483" stroke="#7b4fa0" stroke-width="9" fill="none"/>
<text x="2548" y="1498" class="t">5' G</text>
<text x="3020" y="1490" class="t" textLength="93" lengthAdjust="spacingAndGlyphs">AAA 3'</text>
<line x1="3141" y1="1479" x2="3221" y2="1479" stroke="#111" stroke-width="7" marker-end="url(#ah)"/>
<!-- TRAF3 brown -->
<path d="M3430,1450 L3480,1410 Q3500,1390 3520,1405 L3640,1520 L3610,1580 L3450,1500 Z" fill="#b07e72" stroke="#7a4a3e" stroke-width="3"/>
<!-- TRAF2 orange -->
<path d="M3430,1480 Q3440,1450 3475,1455 L3540,1560 L3600,1520 Q3640,1500 3660,1530 Q3675,1580 3640,1610 L3570,1660 Q3540,1680 3520,1650 Z" fill="#e08a12" stroke="#b0600a" stroke-width="3"/>
<!-- cIAP -->
<g fill="#50b98f" stroke="#2f9a6e" stroke-width="3">
<ellipse cx="3770" cy="1480" rx="110" ry="56"/>
</g>
<g fill="#50b98f"><circle cx="3690" cy="1450" r="22"/><circle cx="3740" cy="1435" r="22"/><circle cx="3800" cy="1435" r="22"/><circle cx="3850" cy="1455" r="22"/><circle cx="3860" cy="1505" r="22"/><circle cx="3800" cy="1525" r="22"/></g>
<path d="M3640,1530 Q3660,1490 3700,1495 Q3730,1510 3720,1550 L3660,1590 Z" fill="#e08a12" stroke="#b0600a" stroke-width="3"/>
<line x1="3763" y1="1405" x2="3763" y2="1430" stroke="#555" stroke-width="3"/>
<ellipse cx="3763" cy="1381" rx="24" ry="28" fill="#c9267f" stroke="#9a1a60" stroke-width="2"/>
<text x="3763" y="1391" text-anchor="middle" font-size="24" style="fill:#fff">Ub</text>
<!-- NIK 1 -->
<g fill="#9fded2" stroke="#4fbfa8" stroke-width="3">
<ellipse cx="3350" cy="1498" rx="100" ry="100"/>
</g>
<g fill="#9fded2"><circle cx="3290" cy="1430" r="30"/><circle cx="3360" cy="1415" r="30"/><circle cx="3420" cy="1450" r="30"/><circle cx="3270" cy="1560" r="30"/><circle cx="3350" cy="1580" r="30"/><circle cx="3425" cy="1550" r="30"/></g>
<text x="3358" y="1490" text-anchor="middle" class="t" textLength="188" lengthAdjust="spacingAndGlyphs">NFκB inducing</text>
<text x="3358" y="1529" text-anchor="middle" class="t">Kinase (NIK)</text>
<text x="3491" y="1447" class="t">TRAF3</text>
<text x="3636" y="1529" class="t">TRAF2</text>
<text x="3768" y="1475" class="t">cIAP</text>
<line x1="3912" y1="1471" x2="3995" y2="1471" stroke="#111" stroke-width="7" marker-end="url(#ah)"/>
<text x="4155" y="1463" text-anchor="middle" font-size="30" textLength="223" lengthAdjust="spacingAndGlyphs">Degradation of</text>
<text x="4155" y="1506" text-anchor="middle" font-size="30">NIK-complex</text>

<text x="2557" y="1639" class="t" font-size="28" textLength="152" lengthAdjust="spacingAndGlyphs">TRAF3 △8</text>
<path d="M2562,1705 C2590,1685 2615,1678 2650,1688 C2710,1705 2760,1712 2815,1709" stroke="#7b4fa0" stroke-width="9" fill="none"/>
<text x="2508" y="1725" class="t">5' G</text>
<text x="2840" y="1717" class="t" textLength="93" lengthAdjust="spacingAndGlyphs">AAA 3'</text>
<line x1="2937" y1="1699" x2="2988" y2="1699" stroke="#111" stroke-width="7" marker-end="url(#ah)"/>
<path d="M3025,1650 Q3030,1615 3070,1618 Q3110,1620 3130,1660 L3260,1750 L3220,1800 L3050,1710 Z" fill="#b07e72" stroke="#7a4a3e" stroke-width="3"/>
<path d="M3090,1740 Q3095,1700 3130,1705 L3230,1800 L3290,1745 Q3330,1730 3350,1760 Q3360,1800 3320,1820 L3230,1860 Q3200,1870 3180,1840 Z" fill="#e08a12" stroke="#b0600a" stroke-width="3"/>
<ellipse cx="3395" cy="1712" rx="105" ry="50" fill="#50b98f" stroke="#2f9a6e" stroke-width="3"/>
<g fill="#50b98f"><circle cx="3320" cy="1685" r="20"/><circle cx="3375" cy="1672" r="20"/><circle cx="3430" cy="1675" r="20"/><circle cx="3475" cy="1700" r="20"/><circle cx="3470" cy="1740" r="20"/></g>
<path d="M3290,1745 Q3320,1710 3350,1725 Q3375,1750 3350,1790 L3310,1815 Z" fill="#e08a12" stroke="#b0600a" stroke-width="3"/>
<line x1="3379" y1="1655" x2="3379" y2="1675" stroke="#555" stroke-width="3"/>
<ellipse cx="3379" cy="1629" rx="24" ry="28" fill="#c9267f" stroke="#9a1a60" stroke-width="2"/>
<text x="3379" y="1639" text-anchor="middle" font-size="24" style="fill:#fff">Ub</text>
<text x="3030" y="1684" font-size="30" textLength="115" lengthAdjust="spacingAndGlyphs">TRAF3△8</text>
<text x="3258" y="1768" class="t">TRAF2</text>
<text x="3390" y="1713" class="t">cIAP</text>
<text x="3532" y="1740" text-anchor="middle" font-size="34">+</text>
<ellipse cx="3675" cy="1728" rx="98" ry="100" fill="#9fded2" stroke="#4fbfa8" stroke-width="3"/>
<g fill="#9fded2"><circle cx="3620" cy="1660" r="28"/><circle cx="3690" cy="1648" r="28"/><circle cx="3740" cy="1690" r="28"/><circle cx="3610" cy="1790" r="28"/><circle cx="3690" cy="1808" r="28"/></g>
<text x="3683" y="1721" text-anchor="middle" class="t" textLength="188" lengthAdjust="spacingAndGlyphs">NFκB inducing</text>
<text x="3683" y="1756" text-anchor="middle" class="t">Kinase (NIK)</text>
<line x1="3805" y1="1721" x2="3888" y2="1721" stroke="#111" stroke-width="7" marker-end="url(#ah)"/>
<text x="3937" y="1733" font-size="30" textLength="228" lengthAdjust="spacingAndGlyphs">Initiate ncNFκB</text>
<line x1="4047" y1="1745" x2="4047" y2="1786" stroke="#111" stroke-width="4" marker-end="url(#ah)"/>
<text x="3885" y="1823" font-size="30" textLength="328" lengthAdjust="spacingAndGlyphs">Increased expression:</text>
<text x="3885" y="1866" font-size="30" textLength="335" lengthAdjust="spacingAndGlyphs">CXCL13, CCL21, CCL19</text>
</svg>
</body></html>
